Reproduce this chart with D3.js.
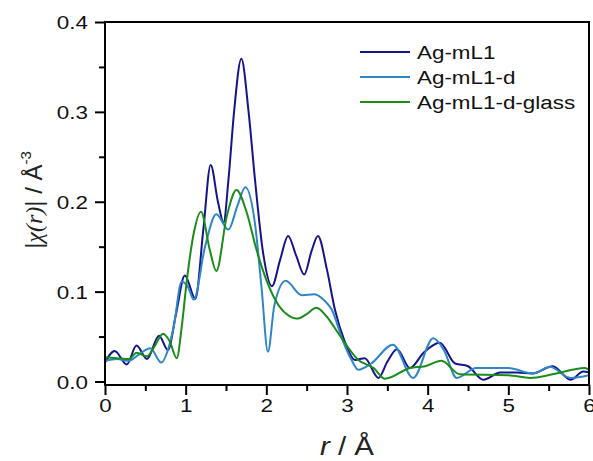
<!DOCTYPE html>
<html><head><meta charset="utf-8">
<script src="https://cdn.jsdelivr.net/npm/d3@7"></script>
<style>body{margin:0;background:#fff}svg{display:block}text{font-family:"Liberation Sans",Arial,sans-serif}</style>
</head><body><svg id="c" width="593" height="461"></svg>
<script>
const seriesNames = ["Ag-mL1", "Ag-mL1-d", "Ag-mL1-d-glass"];
const seriesColors = ["#14148c", "#2e86c8", "#1a8c1a"];

const rA = [0,0.12,0.27,0.39,0.52,0.67,0.78,0.88,0.99,1.12,1.22,1.31,1.40,1.47,1.53,1.60,1.69,1.78,1.86,1.96,2.07,2.17,2.27,2.37,2.47,2.56,2.64,2.75,2.85,2.97,3.1,3.22,3.39,3.5,3.62,3.78,3.95,4.15,4.34,4.5,4.69,4.9,5.1,5.3,5.55,5.77,5.93,6.0];
const vA = [0.021,0.034,0.019,0.040,0.025,0.051,0.035,0.075,0.118,0.092,0.17,0.241,0.2,0.177,0.224,0.30,0.359,0.30,0.224,0.143,0.106,0.135,0.162,0.14,0.119,0.145,0.162,0.125,0.08,0.045,0.024,0.026,0.004,0.022,0.036,0.015,0.032,0.043,0.02,0.017,0.002,0.01,0.01,0.009,0.017,0.002,0.011,0.01];

const rB = [0,0.15,0.29,0.42,0.56,0.70,0.78,0.85,0.95,1.03,1.10,1.24,1.38,1.53,1.64,1.74,1.86,1.94,2.02,2.1,2.24,2.44,2.6,2.72,2.81,2.95,3.05,3.14,3.3,3.57,3.82,4.07,4.2,4.36,4.6,5.0,5.3,5.52,5.77,6.0];
const vB = [0.023,0.025,0.023,0.03,0.037,0.021,0.035,0.06,0.111,0.105,0.091,0.15,0.186,0.169,0.195,0.216,0.175,0.105,0.033,0.085,0.112,0.096,0.097,0.09,0.08,0.045,0.025,0.013,0.02,0.041,0.004,0.048,0.035,0.004,0.015,0.015,0.009,0.016,0.004,0.007];

const rC = [0,0.15,0.3,0.39,0.52,0.62,0.72,0.8,0.89,0.95,1.01,1.1,1.19,1.30,1.38,1.51,1.63,1.75,1.88,2.0,2.11,2.25,2.38,2.5,2.62,2.75,2.89,3.14,3.33,3.47,3.78,3.97,4.17,4.4,5.0,5.27,5.55,5.95,6.0];
const vC = [0.027,0.026,0.025,0.032,0.028,0.04,0.053,0.045,0.026,0.06,0.109,0.165,0.189,0.146,0.123,0.184,0.213,0.19,0.146,0.113,0.091,0.075,0.07,0.075,0.082,0.072,0.054,0.024,0.015,0.003,0.015,0.017,0.023,0.008,0.007,0.004,0.008,0.015,0.013];

const xMajor = [0,1,2,3,4,5,6];
const xMinor = [0.5,1.5,2.5,3.5,4.5,5.5];
const yMajor = [0.0,0.1,0.2,0.3,0.4];
const yMinor = [0.05,0.15,0.25,0.35];

const L = 105, R = 589, T = 22, B = 385;
const SX = 1.18;
const svg = d3.select("#c");
const x = d3.scaleLinear().domain([0,6]).range([L,R]);
const y = d3.scaleLinear().domain([-0.0039,0.4]).range([B,T]);

const series = [[rA,vA],[rB,vB],[rC,vC]];
const line = d3.line().x(d=>x(d[0])).y(d=>y(d[1])).curve(d3.curveMonotoneX);
const g = svg.append("g");
series.forEach((s,i)=>{
  const pts = s[0].map((r,j)=>[r,s[1][j]]);
  g.append("path").attr("d",line(pts)).attr("fill","none")
   .attr("stroke",seriesColors[i]).attr("stroke-width",2).attr("stroke-linejoin","round");
});

// frame
svg.append("rect").attr("x",L).attr("y",T).attr("width",R-L).attr("height",B-T)
  .attr("fill","none").attr("stroke","#000").attr("stroke-width",2);

// axes
const xAx = svg.append("g").attr("transform",`translate(0,${B})`);
xAx.call(d3.axisBottom(x).tickValues(xMajor).tickSize(10).tickFormat(d3.format("d")));
const xMin = svg.append("g").attr("transform",`translate(0,${B})`);
xMin.call(d3.axisBottom(x).tickValues(xMinor).tickSize(6).tickFormat(""));
const yAx = svg.append("g").attr("transform",`translate(${L},0)`);
yAx.call(d3.axisLeft(y).tickValues(yMajor).tickSize(10).tickFormat(d3.format(".1f")));
const yMin = svg.append("g").attr("transform",`translate(${L},0)`);
yMin.call(d3.axisLeft(y).tickValues(yMinor).tickSize(6).tickFormat(""));
[xAx,xMin,yAx,yMin].forEach(a=>{
  a.select(".domain").remove();
  a.selectAll(".tick line").attr("stroke","#000").attr("stroke-width",2);
  a.selectAll("text").attr("font-size",19).attr("fill","#111")
   .style("font-family","Liberation Sans, Arial, sans-serif");
});
xAx.selectAll("text").attr("dy","0.71em").attr("y",14).attr("transform",`scale(${SX},1)`);
yAx.selectAll("text").attr("x",-17/SX).attr("dy","0.36em").attr("transform",`scale(${SX},1)`);

// legend
const lg = svg.append("g");
seriesNames.forEach((n,i)=>{
  const yy = 52 + i*25;
  lg.append("line").attr("x1",360).attr("x2",410).attr("y1",yy).attr("y2",yy)
    .attr("stroke",seriesColors[i]).attr("stroke-width",2);
  lg.append("text").attr("transform",`translate(417,${yy+7}) scale(${SX},1)`)
    .attr("font-size",19).attr("fill","#111").text(n);
});

// x label
const xl = svg.append("text").attr("transform",`translate(347,455) scale(${SX},1)`).attr("text-anchor","middle")
  .attr("font-size",25).attr("fill","#222");
xl.append("tspan").attr("font-style","italic").text("r");
xl.append("tspan").text(" / Å");

// y label
const yl = svg.append("text").attr("transform",`translate(42,200) rotate(-90)`)
  .attr("text-anchor","middle").attr("font-size",24).attr("fill","#222");
yl.append("tspan").text("|");
yl.append("tspan").attr("font-style","italic").style("font-family","Liberation Serif, serif").text("χ(r)");
yl.append("tspan").text("| / Å");
yl.append("tspan").attr("font-size",15).attr("dy",-11).text("-3");
</script></body></html>
